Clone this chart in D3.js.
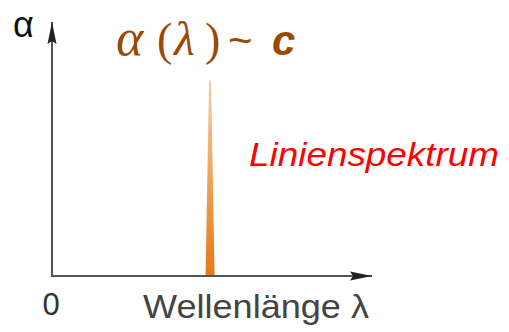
<!DOCTYPE html>
<html>
<head>
<meta charset="utf-8">
<script src="https://cdn.jsdelivr.net/npm/d3@7"></script>
<style>
  html, body { margin: 0; padding: 0; background: #fff; }
  svg { display: block; }
</style>
</head>
<body>
<div id="chart"></div>
<script>
// Daten: eine einzelne Spektrallinie
const lineWavelengths = [0.494];
const lineIntensities = [0.77];
const xTickLabels = ["0"];
const yAxisLabel = "α";
const xAxisLabel = "Wellenlänge λ";
const spectrumLabel = "Linienspektrum";

const width = 509, height = 332;
const margin = { top: 22, right: 137, bottom: 56, left: 52 };

const svg = d3.select("#chart")
    .append("svg")
    .attr("width", width)
    .attr("height", height);

const xScale = d3.scaleLinear().domain([0, 1]).range([margin.left, width - margin.right]);
const yScale = d3.scaleLinear().domain([0, 1]).range([height - margin.bottom, margin.top]);

const defs = svg.append("defs");

// Pfeilspitze
defs.append("marker")
    .attr("id", "arrow")
    .attr("viewBox", "0 0 22 10")
    .attr("refX", 22)
    .attr("refY", 5)
    .attr("markerWidth", 22)
    .attr("markerHeight", 10)
    .attr("markerUnits", "userSpaceOnUse")
    .attr("orient", "auto")
    .append("path")
    .attr("d", "M0,0.5 L22,5 L0,9.5 L3,5 Z")
    .attr("fill", "#222");

const grad = defs.append("linearGradient")
    .attr("id", "spike")
    .attr("x1", 0).attr("y1", 0).attr("x2", 0).attr("y2", 1);
grad.append("stop").attr("offset", "0%").attr("stop-color", "#f3cfa6");
grad.append("stop").attr("offset", "50%").attr("stop-color", "#eea35c");
grad.append("stop").attr("offset", "100%").attr("stop-color", "#e57a16");

// Spektrallinie
svg.selectAll(".spike")
    .data(lineWavelengths.map((w, i) => ({ w: w, a: lineIntensities[i] })))
    .enter()
    .append("path")
    .attr("class", "spike")
    .attr("d", d => {
        const x = xScale(d.w);
        const top = yScale(d.a), bottom = yScale(0);
        return `M${x - 1},${top} L${x + 1},${top} L${x + 4.5},${bottom} L${x - 4.5},${bottom} Z`;
    })
    .attr("fill", "url(#spike)");

// Achsen
svg.append("line")
    .attr("x1", xScale(0)).attr("y1", yScale(0) + 1)
    .attr("x2", xScale(0)).attr("y2", yScale(1))
    .attr("stroke", "#555")
    .attr("stroke-width", 2)
    .attr("marker-end", "url(#arrow)");

svg.append("line")
    .attr("x1", xScale(0) - 1).attr("y1", yScale(0))
    .attr("x2", xScale(1)).attr("y2", yScale(0))
    .attr("stroke", "#555")
    .attr("stroke-width", 2)
    .attr("marker-end", "url(#arrow)");

// Beschriftungen
svg.selectAll(".xtick")
    .data(xTickLabels)
    .enter()
    .append("text")
    .attr("class", "xtick")
    .attr("x", xScale(0) - 1)
    .attr("y", 315)
    .attr("text-anchor", "middle")
    .attr("font-family", "Liberation Sans, Arial, sans-serif")
    .attr("font-size", 31)
    .attr("fill", "#333")
    .text(d => d);

svg.append("text")
    .attr("x", 143)
    .attr("y", 318)
    .attr("font-family", "Liberation Sans, Arial, sans-serif")
    .attr("font-size", 34)
    .attr("textLength", 226)
    .attr("lengthAdjust", "spacingAndGlyphs")
    .attr("fill", "#444")
    .text(xAxisLabel);

svg.append("text")
    .attr("x", 13)
    .attr("y", 37)
    .attr("font-family", "Liberation Sans, Arial, sans-serif")
    .attr("font-size", 36)
    .attr("fill", "#111")
    .text(yAxisLabel);

svg.append("text")
    .attr("x", 249)
    .attr("y", 166)
    .attr("font-family", "Liberation Sans, Arial, sans-serif")
    .attr("font-size", 33)
    .attr("font-style", "italic")
    .attr("textLength", 250)
    .attr("lengthAdjust", "spacingAndGlyphs")
    .attr("fill", "#ff0000")
    .text(spectrumLabel);

// Formel α (λ) ~ c
const serif = "Liberation Serif, Times New Roman, serif";
const sans = "Liberation Sans, Arial, sans-serif";
const formulaParts = [
    { t: "α", x: 116, font: serif, size: 52, style: "italic" },
    { t: "(", x: 157, font: serif, size: 46, style: "normal" },
    { t: "λ", x: 174, font: serif, size: 48, style: "italic" },
    { t: ")", x: 205, font: serif, size: 46, style: "normal" },
    { t: "~", x: 228, font: sans, size: 42, style: "normal" },
    { t: "c", x: 272, font: sans, size: 42, style: "italic", weight: "bold" }
];
svg.append("text")
    .attr("y", 55)
    .attr("fill", "#9a4a06")
    .selectAll("tspan")
    .data(formulaParts)
    .enter()
    .append("tspan")
    .attr("x", d => d.x)
    .attr("font-family", d => d.font)
    .attr("font-size", d => d.size)
    .attr("font-style", d => d.style)
    .attr("font-weight", d => d.weight || "normal")
    .text(d => d.t);
</script>
</body>
</html>
